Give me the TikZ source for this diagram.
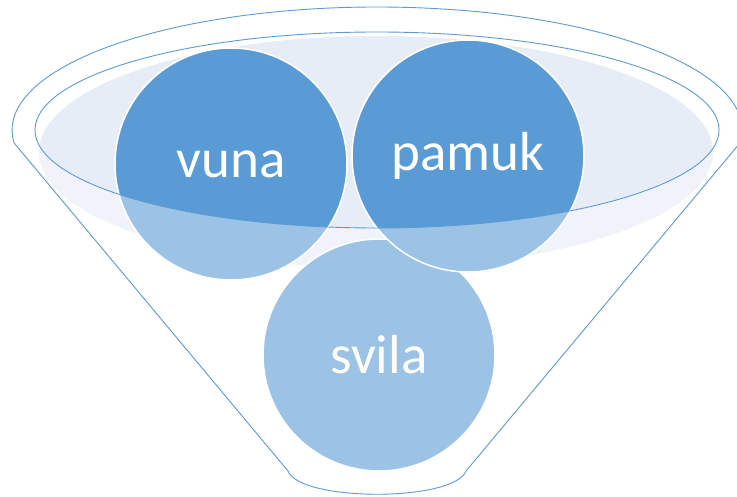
\documentclass[tikz,border=0pt]{standalone}
\usepackage{fontspec}
\setmainfont{Carlito}
\definecolor{fblue}{HTML}{5B9BD5}
\definecolor{flight}{HTML}{E6EDF7}
\begin{document}
\begin{tikzpicture}[x=1pt,y=-1pt,
  ball/.style={circle, minimum size=232pt, inner sep=0pt, fill=fblue, draw=white, line width=1.5pt, text=white, font=\fontsize{55}{60}\selectfont},
  rimline/.style={draw=fblue, line width=0.9pt}]
\useasboundingbox (0,0) rectangle (737,497);
% liquid surface
\fill[flight] (376,152) ellipse[x radius=337, y radius=116];
% balls
\node[ball] (svila) at (379,355) {svila};
\node[ball] (vuna) at (231,164) {vuna};
\node[ball] (pamuk) at (468,156) {pamuk};
% funnel body veil (outside the rim)
\fill[white, fill opacity=0.4, even odd rule] (0,0) rectangle (737,497) (377,130) ellipse[x radius=342, y radius=98];
% rim
\draw[rimline] (377,130) ellipse[x radius=342, y radius=98];
% outer funnel outline
\draw[rimline, line join=round] (740,143) arc[start angle=6.07, end angle=-186.07, x radius=365, y radius=123]
  -- (288,471) .. controls (300,502) and (454,502) .. (466,471) -- cycle;
\end{tikzpicture}
\end{document}
